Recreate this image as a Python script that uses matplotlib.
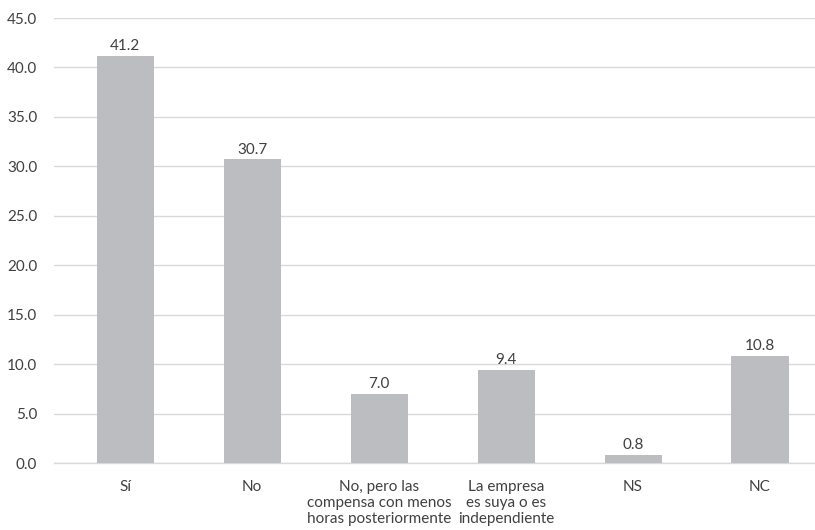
import matplotlib
matplotlib.use("Agg")
import matplotlib.pyplot as plt

plt.rcParams['font.family'] = ['Lato', 'DejaVu Sans']

categories = ["Sí", "No", "No, pero las\ncompensa con menos\nhoras posteriormente",
              "La empresa\nes suya o es\nindependiente", "NS", "NC"]
values = [41.2, 30.7, 7.0, 9.4, 0.8, 10.8]
yticks = [0, 5, 10, 15, 20, 25, 30, 35, 40, 45]

text_color = "#404040"
bar_color = "#bcbdc1"
grid_color = "#d9d9d9"

fig = plt.figure(figsize=(8.15, 5.3), dpi=100)
ax = fig.add_axes([0.066, 0.126, 0.934, 0.84])

x = range(len(categories))
bars = ax.bar(x, values, width=0.45, color=bar_color, zorder=3)
for b, v in zip(bars, values):
    ax.text(b.get_x() + b.get_width() / 2, v + 0.3, f"{v:.1f}",
            ha="center", va="bottom", fontsize=11, color=text_color)

ax.set_xlim(-0.563, 5.433)
ax.set_ylim(0, 45)
ax.set_yticks(yticks)
ax.set_yticklabels([f"{t:.1f}" for t in yticks])
ax.set_xticks(list(x))
ax.set_xticklabels(categories, linespacing=1.2)
ax.tick_params(axis="both", length=0, labelsize=11, colors=text_color)
ax.tick_params(axis="x", pad=12)
ax.tick_params(axis="y", pad=12)

ax.grid(axis="y", color=grid_color, linewidth=1, zorder=0)
for s in ["top", "right", "left"]:
    ax.spines[s].set_visible(False)
ax.spines["bottom"].set_color(grid_color)
ax.spines["bottom"].set_linewidth(1)

fig.savefig("out.png", dpi=100)
